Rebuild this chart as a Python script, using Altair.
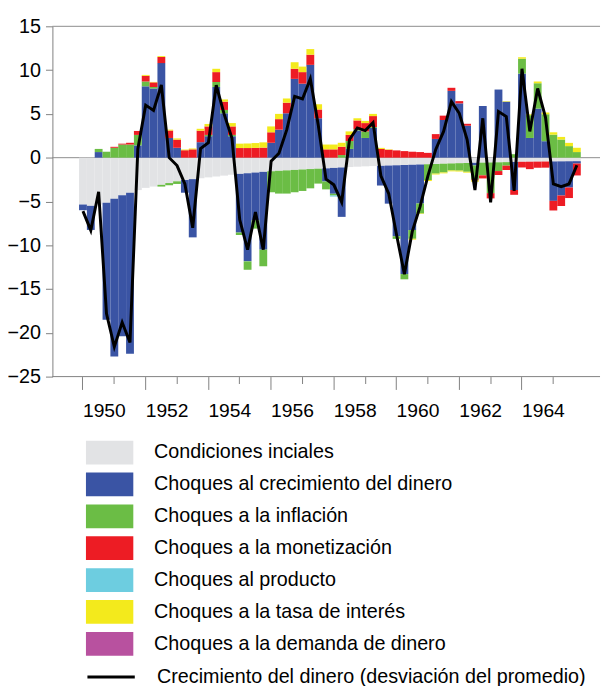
import altair as alt
import pandas as pd

FONT = "Liberation Sans, Arial, sans-serif"

years = list(range(1950, 1966))
periodos = [f"{y}-T{q}" for y in years for q in range(1, 5)]
q1_ticks = [f"{y}-T1" for y in years]

names = [
    "Condiciones inciales",
    "Choques al crecimiento del dinero",
    "Choques a la inflación",
    "Choques a la monetización",
    "Choques al producto",
    "Choques a la tasa de interés",
    "Choques a la demanda de dinero",
]
colors = ["#e2e3e5", "#3a54a4", "#6bbd45", "#ed1c24", "#6dcde0", "#f3ea1c", "#b8519f"]
line_name = "Crecimiento del dinero (desviación del promedio)"

condiciones = [-5.35, -5.5, -5.35, -5.15, -4.7, -4.3, -4.0, -3.7, -3.45, -3.3, -3.1, -2.9, -2.7, -2.55, -2.45, -2.35,
               -2.25, -2.15, -2.05, -1.95, -1.85, -1.77, -1.7, -1.62, -1.55, -1.5, -1.45, -1.4, -1.35, -1.3, -1.26, -1.22,
               -1.17, -1.12, -1.07, -1.03, -0.99, -0.96, -0.93, -0.9, -0.87, -0.84, -0.81, -0.78, -0.75, -0.72, -0.69, -0.66,
               -0.63, -0.61, -0.59, -0.57, -0.55, -0.53, -0.51, -0.49, -0.47, -0.46, -0.45, -0.44, -0.43, -0.42, -0.41, -0.4]
dinero = [-0.65, -2.75, 0.64, -13.35, -18.0, -16.1, -18.4, 1.4, 8.15, 7.9, 10.8, 2.25, 1.13, -1.45, -6.65, 1.77,
          2.45, 8.08, 5.07, 2.45, -6.7, -10.07, -5.44, -8.88, 1.7, 3.2, 5.07, 9.0, 8.45, 10.6, 4.5, -1.5,
          -2.95, -5.64, 1.0, 3.1, 2.25, 3.4, -2.25, -4.35, -8.1, -12.45, -7.45, -4.45, 0.0, 2.14, 4.3, 7.63,
          6.2, 3.65, -0.3, 5.9, 0.0, 7.78, 6.4, -3.2, 9.6, 2.25, 5.6, 1.88, -4.5, -3.9, -3.0, -0.27]
inflacion = [0.0, 0.0, 0.36, 0.68, 1.13, 1.5, 1.5, 1.2, 0.55, 0.17, -0.2, -0.25, -0.3, 0.0, 0.0, 0.0,
             0.15, 0.56, 0.38, 0.15, -0.28, -0.96, -0.96, -1.9, -2.4, -2.6, -2.65, -2.55, -2.45, -2.2, -1.7, -0.9,
             -0.2, 0.3, 0.9, 0.15, 0.75, 0.1, 0.0, 0.0, -0.3, -0.6, -1.0, -1.15, -1.8, -1.1, -1.0, -0.8,
             -0.85, -1.0, -1.6, -1.45, -3.5, -1.0, -0.4, 0.4, 1.7, 2.6, 2.9, 3.08, 2.63, 2.07, 1.32, 0.64]
monetizacion = [0.0, 0.0, 0.0, 0.0, 0.11, 0.1, 0.2, 0.45, 0.65, 0.53, 0.7, 0.85, 0.93, 0.85, 0.95, 1.31,
                0.97, 1.13, 0.94, 0.97, 1.1, 1.1, 1.12, 1.15, 1.2, 1.2, 1.21, 1.15, 1.32, 1.16, 1.0, 0.95,
                0.95, 0.95, 0.7, 1.0, 0.95, 1.25, 1.0, 0.9, 0.83, 0.75, 0.68, 0.64, 0.55, 0.55, 0.5, 0.35,
                0.26, 0.22, -0.1, -0.35, -0.6, -0.45, -0.5, -0.55, -0.65, -0.85, -0.7, -0.7, -1.1, -1.2, -1.2, -1.36]
producto = [0.0, 0.0, 0.0, 0.0, 0.0, 0.0, 0.0, 0.0, 0.0, 0.0, 0.0, 0.0, 0.0, 0.0, 0.0, 0.0,
            0.0, 0.0, 0.0, 0.0, 0.0, 0.0, 0.0, 0.0, 0.0, 0.0, 0.0, 0.0, 0.0, 0.0, 0.0, 0.0,
            -0.12, 0.0, 0.0, 0.0, 0.0, 0.0, 0.0, 0.0, 0.0, 0.0, 0.0, 0.0, 0.0, 0.0, 0.0, 0.0,
            0.0, 0.0, 0.0, 0.0, 0.0, 0.0, 0.0, 0.0, 0.0, 0.0, 0.0, 0.0, 0.0, 0.0, 0.0, 0.0]
tasa = [0.0, 0.0, 0.0, 0.0, 0.0, 0.0, 0.0, 0.0, 0.1, 0.05, 0.1, 0.1, 0.14, 0.08, 0.1, 0.22,
        0.28, 0.38, 0.26, 0.38, 0.5, 0.52, 0.55, 0.6, 0.67, 0.6, 0.48, 0.75, 0.63, 0.64, 0.6, 0.55,
        0.55, 0.45, 0.4, 0.25, 0.25, 0.25, 0.12, 0.05, 0.0, 0.0, -0.1, -0.05, -0.12, -0.1, -0.1, -0.1,
        -0.1, -0.1, -0.15, 0.0, 0.0, 0.0, 0.06, 0.0, 0.17, 0.1, 0.2, 0.2, 0.27, 0.3, 0.37, 0.49]
demanda = [0.0] * 64
crecimiento = [-6.1, -8.3, -3.9, -17.8, -21.6, -18.8, -21.1, 1.0, 6.0, 5.4, 8.3, 0.0, -0.9, -3.0, -8.0, 1.05,
               1.7, 8.27, 5.0, 2.25, -7.1, -10.5, -6.2, -10.5, -0.4, 0.5, 3.2, 7.0, 6.7, 9.0, 3.8, -2.45,
               -3.1, -5.07, 2.07, 3.4, 3.1, 4.0, -2.07, -4.1, -8.8, -13.3, -8.45, -5.6, -2.07, 0.94, 3.0, 6.4,
               5.07, 2.07, -3.7, 4.5, -5.1, 5.26, 4.7, -3.8, 10.15, 3.0, 7.9, 4.6, -3.0, -3.3, -3.0, -0.86]

series = [condiciones, dinero, inflacion, monetizacion, producto, tasa, demanda]
rows = []
for k, (nm, vals) in enumerate(zip(names, series)):
    for p, v in zip(periodos, vals):
        rows.append({"periodo": p, "componente": nm, "k": k, "valor": v})
bars_df = pd.DataFrame(rows)
line_df = pd.DataFrame({"periodo": periodos, "crecimiento": crecimiento, "serie": line_name})
ref_df = pd.DataFrame({"y": [15, 0]})

xscale = alt.Scale(domain=periodos, range=[27, 535.5], paddingInner=0, paddingOuter=0)
yscale = alt.Scale(domain=[-25, 15], nice=False, zero=False)

even_test = "parseInt(slice(datum.value,0,4)) % 2 == 0"
xaxis = alt.Axis(
    values=q1_ticks, title=None, domain=False, grid=False,
    tickSize={"condition": {"test": even_test, "value": 13}, "value": 7},
    tickColor="#808080",
    labelAngle=0, labelAlign="left", labelFontSize=19.5, labelPadding=12, labelColor="black",
    labelOverlap=False, labelFlush=False,
    labelExpr=f"{even_test} ? slice(datum.value,0,4) : ''",
)
yaxis = alt.Axis(
    values=list(range(-25, 16, 5)), title=None, grid=False, tickSize=7, tickColor="#808080",
    domainColor="#808080", labelFontSize=20, labelPadding=5, labelColor="black",
)

rules = alt.Chart(ref_df).mark_rule(color="#8c8c8c", strokeWidth=1).encode(
    y=alt.Y("y:Q", scale=yscale, axis=yaxis)
)
base_line = alt.Chart(pd.DataFrame({"y": [-25]})).mark_rule(color="#808080", strokeWidth=1).encode(
    y=alt.Y("y:Q", scale=yscale, axis=yaxis)
)

bars = alt.Chart(bars_df).mark_bar(strokeWidth=0).encode(
    x=alt.X("periodo:O", scale=xscale, axis=xaxis),
    y=alt.Y("valor:Q", stack="zero", scale=yscale, axis=yaxis),
    order=alt.Order("k:Q", sort="ascending"),
    color=alt.Color(
        "componente:N",
        scale=alt.Scale(domain=names, range=colors),
        legend=alt.Legend(
            title=None, orient="none", legendX=46, legendY=420, direction="vertical",
            symbolType="M-2,-1H2V1H-2Z", symbolSize=576, symbolStrokeWidth=0,
            labelFontSize=20, labelOffset=33, rowPadding=8.3, labelLimit=600, labelColor="black",
        ),
    ),
)

line = alt.Chart(line_df).mark_line(strokeWidth=3).encode(
    x=alt.X("periodo:O", scale=xscale, axis=xaxis),
    y=alt.Y("crecimiento:Q", scale=yscale, axis=yaxis),
    stroke=alt.Stroke(
        "serie:N",
        scale=alt.Scale(domain=[line_name], range=["black"]),
        legend=alt.Legend(
            title=None, orient="none", legendX=34, legendY=634,
            symbolType="stroke", symbolSize=2304, symbolStrokeWidth=3,
            labelFontSize=20, labelOffset=21, labelLimit=700, labelColor="black",
        ),
    ),
)

chart = (
    alt.layer(rules, base_line, bars, line)
    .properties(
        width=555, height=355,
        autosize=alt.AutoSizeParams(type="none"),
        padding={"left": 45, "top": 14, "right": 2, "bottom": 309},
    )
    .configure(font=FONT)
    .configure_view(stroke=None)
    .configure_axis(labelFont=FONT)
    .configure_legend(labelFont=FONT)
)

chart.save("out.html", embed_options={"renderer": "svg", "actions": False})
